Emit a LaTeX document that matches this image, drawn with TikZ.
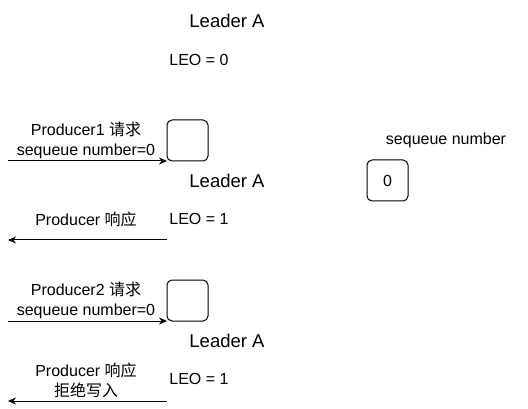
\documentclass[tikz,border=0pt]{standalone}
\usepackage{fontspec}
\setmainfont{Liberation Sans}
\newfontfamily\cjk{Noto Sans CJK SC}
\usetikzlibrary{arrows.meta}
\begin{document}
\begin{tikzpicture}[x=1pt,y=-1pt,
  txt/.style={inner sep=0pt,font=\fontsize{16}{20}\selectfont,align=center},
  big/.style={inner sep=0pt,font=\fontsize{18.5}{22}\selectfont},
  rbox/.style={draw,rounded corners=5pt,line width=1pt,minimum width=41pt,minimum height=41pt,inner sep=0pt,font=\fontsize{16}{20}\selectfont},
  arr/.style={line width=1pt,-{Stealth[length=8pt,width=7pt]}}]
\useasboundingbox (0,0) rectangle (528,409);
% top
\node[big] (la0) at (227,21) {Leader A};
\node[txt] (leo0) at (199,60) {LEO = 0};
% section 1
\node[rbox] (b1) at (187.5,140.5) {};
\node[txt] (p1) at (86,140) {Producer1 {\cjk 请求}\\sequeue number=0};
\node[big] (la1) at (227,181) {Leader A};
\node[txt] (r1) at (86,219) {Producer {\cjk 响应}};
\node[txt] (leo1) at (199,219) {LEO = 1};
\coordinate (s1) at (8,161);
\coordinate (e1) at (167,161);
\draw[arr] (s1) -- (e1);
\coordinate (s2) at (167,240);
\coordinate (e2) at (8,240);
\draw[arr] (s2) -- (e2);
% sequence number box
\node[txt] (sn) at (446,140) {sequeue number};
\node[rbox] (b0) at (387.5,180.5) {0};
% section 2
\node[rbox] (b2) at (187.5,300.5) {};
\node[txt] (p2) at (86,300) {Producer2 {\cjk 请求}\\sequeue number=0};
\node[big] (la2) at (227,341) {Leader A};
\node[txt] (r2) at (86,380) {Producer {\cjk 响应}\\{\cjk 拒绝写入}};
\node[txt] (leo2) at (199,379) {LEO = 1};
\coordinate (s3) at (8,321);
\coordinate (e3) at (167,321);
\draw[arr] (s3) -- (e3);
\coordinate (s4) at (167,401);
\coordinate (e4) at (8,401);
\draw[arr] (s4) -- (e4);
\end{tikzpicture}
\end{document}
